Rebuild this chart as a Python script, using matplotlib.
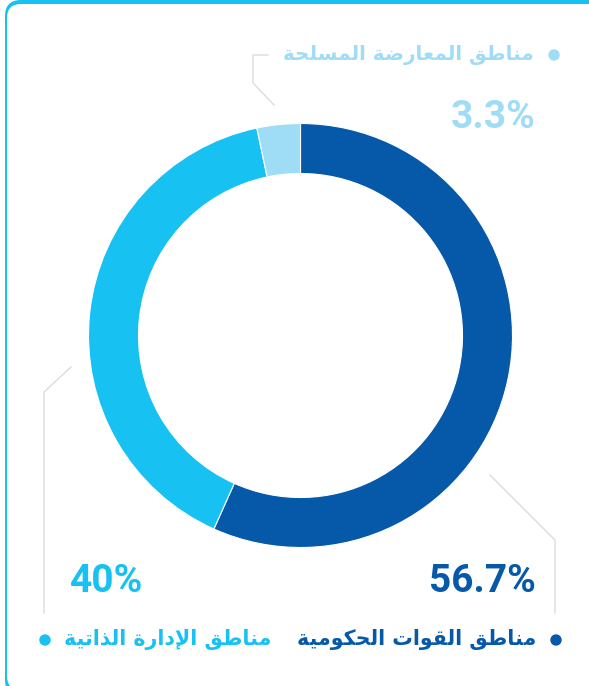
import matplotlib
matplotlib.use("Agg")
import matplotlib.pyplot as plt
from matplotlib.patches import FancyBboxPatch, Circle

# chart data
labels = ["مناطق القوات الحكومية", "مناطق الإدارة الذاتية", "مناطق المعارضة المسلحة"]
values = [56.7, 40, 3.3]
value_labels = ["56.7%", "40%", "3.3%"]
colors = ["#0659a8", "#17c1f1", "#9fdcf6"]

W, H = 589, 686

# --- tiny arabic shaper (matplotlib does no shaping / bidi) ---
FORMS = {
    'ا': (0xFE8D, 0xFE8E, None, None),
    'إ': (0xFE87, 0xFE88, None, None),
    'ة': (0xFE93, 0xFE94, None, None),
    'ت': (0xFE95, 0xFE96, 0xFE97, 0xFE98),
    'ح': (0xFEA1, 0xFEA2, 0xFEA3, 0xFEA4),
    'د': (0xFEA9, 0xFEAA, None, None),
    'ذ': (0xFEAB, 0xFEAC, None, None),
    'ر': (0xFEAD, 0xFEAE, None, None),
    'س': (0xFEB1, 0xFEB2, 0xFEB3, 0xFEB4),
    'ض': (0xFEBD, 0xFEBE, 0xFEBF, 0xFEC0),
    'ط': (0xFEC1, 0xFEC2, 0xFEC3, 0xFEC4),
    'ع': (0xFEC9, 0xFECA, 0xFECB, 0xFECC),
    'ق': (0xFED5, 0xFED6, 0xFED7, 0xFED8),
    'ك': (0xFED9, 0xFEDA, 0xFEDB, 0xFEDC),
    'ل': (0xFEDD, 0xFEDE, 0xFEDF, 0xFEE0),
    'م': (0xFEE1, 0xFEE2, 0xFEE3, 0xFEE4),
    'ن': (0xFEE5, 0xFEE6, 0xFEE7, 0xFEE8),
    'و': (0xFEED, 0xFEEE, None, None),
    'ي': (0xFEF1, 0xFEF2, 0xFEF3, 0xFEF4),
}
LAM_ALEF = {'ا': (0xFEFB, 0xFEFC, None, None), 'إ': (0xFEF9, 0xFEFA, None, None)}


def shape(s):
    toks = []
    i = 0
    while i < len(s):
        c = s[i]
        if c == 'ل' and i + 1 < len(s) and s[i + 1] in LAM_ALEF:
            toks.append(LAM_ALEF[s[i + 1]])
            i += 2
            continue
        toks.append(FORMS.get(c, c))
        i += 1
    out = []
    for k, t in enumerate(toks):
        if isinstance(t, str):
            out.append(t)
            continue
        prev = toks[k - 1] if k > 0 else None
        nxt = toks[k + 1] if k + 1 < len(toks) else None
        jp = isinstance(prev, tuple) and prev[2] is not None
        jn = isinstance(nxt, tuple) and t[2] is not None
        if jp and jn:
            cp = t[3]
        elif jp:
            cp = t[1]
        elif jn:
            cp = t[2]
        else:
            cp = t[0]
        out.append(chr(cp))
    return ''.join(out)[::-1]


def Y(y):
    return H - y


fig = plt.figure(figsize=(W / 100, H / 100), dpi=100)
ax = fig.add_axes([0, 0, 1, 1])

# card frame
ax.add_patch(FancyBboxPatch((5, -10), 600, 696, boxstyle="round,pad=0,rounding_size=16",
                            fc="#17c1f1", ec="none", zorder=0))
ax.add_patch(FancyBboxPatch((7, -4), 600, 686, boxstyle="round,pad=0,rounding_size=14",
                            fc="white", ec="none", zorder=0))

# donut
ax.pie(values, colors=colors, startangle=90, counterclock=False,
       center=(300.5, Y(335.5)), radius=212,
       wedgeprops=dict(width=50, edgecolor="white", linewidth=0.8))

# leader lines
line_kw = dict(color="#dcdcdc", lw=1, zorder=1)
ax.plot([490, 555, 555], [Y(475), Y(540), Y(613)], **line_kw)
ax.plot([71, 44, 44], [Y(367), Y(392), Y(613)], **line_kw)
ax.plot([274, 253, 253, 268], [Y(105), Y(83), Y(55), Y(55)], **line_kw)

num_font = dict(family="Roboto", fontweight="bold", fontsize=28)
ar_font = dict(family="DejaVu Sans", fontweight="bold", fontsize=14.8)

# percentages
ax.text(536, Y(582), value_labels[0], color=colors[0], ha="right", va="center", **num_font)
ax.text(70, Y(582), value_labels[1], color=colors[1], ha="left", va="center", **num_font)
ax.text(536, Y(118), value_labels[2], color=colors[2], ha="right", va="center", **num_font)

# labels with bullets
ax.text(536, Y(640), shape(labels[0]), color=colors[0], ha="right", va="center", **ar_font)
ax.add_patch(Circle((556, Y(640)), 5, color=colors[0]))
ax.text(271, Y(640), shape(labels[1]), color=colors[1], ha="right", va="center", **ar_font)
ax.add_patch(Circle((45, Y(640)), 5, color=colors[1]))
ax.text(534, Y(55), shape(labels[2]), color=colors[2], ha="right", va="center",
        family="DejaVu Sans", fontweight="bold", fontsize=14.3)
ax.add_patch(Circle((554, Y(55)), 5, color=colors[2]))

ax.set_xlim(0, W)
ax.set_ylim(0, H)
ax.set_aspect("equal")
ax.axis("off")

fig.savefig("out.png", dpi=100)
